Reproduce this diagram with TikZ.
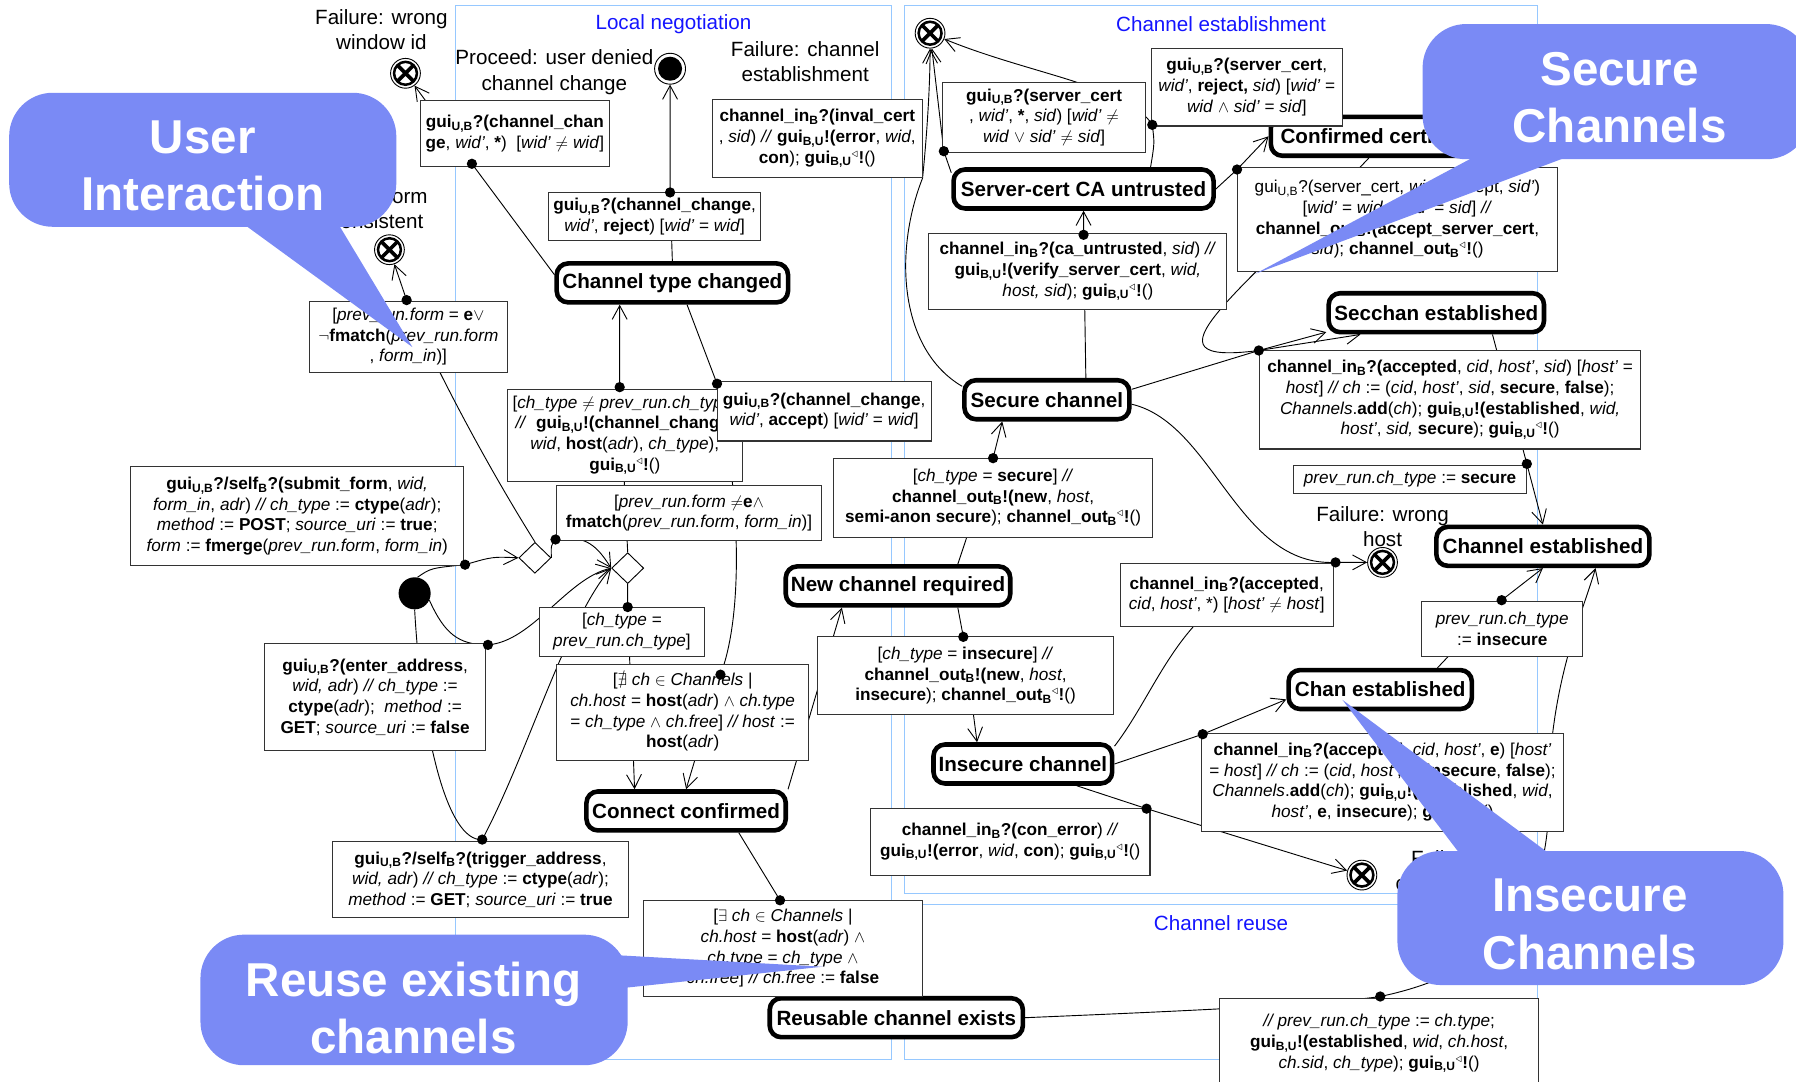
\documentclass[tikz,border=0pt]{standalone}
\usepackage{amsmath,amssymb}
\usepackage{fontspec}
\setmainfont{Liberation Sans}
\usetikzlibrary{arrows.meta,shapes.geometric,calc}
\definecolor{frameblue}{RGB}{150,200,255}
\definecolor{titleblue}{RGB}{20,20,255}
\definecolor{bubbleblue}{RGB}{122,138,245}
\pgfdeclarelayer{frames}
\pgfdeclarelayer{wires}
\pgfdeclarelayer{top}
\pgfsetlayers{frames,wires,main,top}
\newcommand{\lsub}[1]{\textsubscript{\textbf{#1}}}
\newcommand{\tri}{\textsuperscript{$\triangleleft$}}
\newcommand{\gui}[1]{\textbf{gui}\lsub{#1}}
\newcommand{\chin}{\textbf{channel\_in}\lsub{B}}
\newcommand{\chout}{\textbf{channel\_out}\lsub{B}}
\tikzset{
  statebox/.style={rectangle, rounded corners=10pt, draw, line width=4pt, fill=white,
                   inner sep=2pt, minimum height=34pt, font=\fontsize{18}{21}\selectfont\bfseries},
  transbox/.style={rectangle, draw=black!80, line width=0.9pt, fill=white, align=center,
                   inner sep=2pt, font=\fontsize{15}{18}\selectfont},
  failnode/.style={circle, draw, line width=0.8pt, minimum size=26pt, inner sep=0pt, fill=white,
                   path picture={
                     \draw[black, line width=2.2pt] (path picture bounding box.center) circle (10pt);
                     \draw[black, line width=3.2pt] (path picture bounding box.center)
                       +(-6.5pt,-6.5pt) -- +(6.5pt,6.5pt) +(-6.5pt,6.5pt) -- +(6.5pt,-6.5pt);}},
  finalnode/.style={circle, draw, line width=0.8pt, minimum size=27pt, inner sep=0pt, fill=white,
                    path picture={\fill[black] (path picture bounding box.center) circle (10.5pt);}},
  initnode/.style={circle, fill, minimum size=28pt, inner sep=0pt},
  choicenode/.style={diamond, draw, fill=white, line width=0.8pt, minimum width=28pt,
                     minimum height=27pt, inner sep=0pt},
  note/.style={align=center, font=\fontsize{18}{22}\selectfont},
  sectitle/.style={font=\fontsize{18}{22}\selectfont, text=titleblue},
  secframe/.style={draw=frameblue, line width=0.8pt},
  wire/.style={line width=0.8pt},
  arrow/.style={wire, -{Straight Barb[length=12pt,width=13pt]}},
  bubble/.style={fill=bubbleblue, draw=none},
  bubbletext/.style={text=white, align=center, font=\fontsize{41.5}{50}\selectfont\bfseries},
}

\begin{document}
\begin{tikzpicture}[x=1pt,y=-1pt]
\useasboundingbox (0,0) rectangle (1568,944);

\begin{pgfonlayer}{frames}
\draw[secframe] (398,5) rectangle (778,925);
\draw[secframe] (790,5) rectangle (1342,780);
\draw[secframe] (790,790) rectangle (1342,925);
\end{pgfonlayer}
\node[sectitle] (tloc) at (588,21) {Local negotiation};
\node[sectitle] (test) at (1066,21) {Channel establishment};
\node[sectitle] (treu) at (1066,806) {Channel reuse};

% states
\node[statebox, minimum width=202pt] (ctc) at (587,247) {Channel type changed};
\node[statebox, minimum width=144pt] (sc) at (914,349) {Secure channel};
\node[statebox, minimum width=227pt] (scu) at (946,165) {Server-cert CA untrusted};
\node[statebox, minimum width=197pt] (cert) at (1208,119) {Confirmed certificate};
\node[statebox, minimum width=188pt] (secchan) at (1254,273) {Secchan established};
\node[statebox, minimum width=196pt] (ncr) at (784,511.5) {New channel required};
\node[statebox, minimum width=186pt] (ce) at (1347,477) {Channel established};
\node[statebox, minimum width=160pt] (chanest) at (1205,602) {Chan established};
\node[statebox, minimum width=156pt] (ic) at (893,667) {Insecure channel};
\node[statebox, minimum width=174pt] (cc) at (599,708) {Connect confirmed};
\node[statebox, minimum width=221pt] (rce) at (782.5,888.5) {Reusable channel exists};

\node[initnode] (init) at (362,518) {};
\node[finalnode] (fin) at (585,60) {};
\node[failnode] (x1) at (354,64) {};
\node[failnode] (x2) at (340,218) {};
\node[failnode] (x3) at (812,29) {};
\node[failnode] (x4) at (1207,491) {};
\node[failnode] (x5) at (1189,764) {};
\node[choicenode] (dia1) at (467,487) {};
\node[choicenode] (dia2) at (548,496) {};

\node[note] (lx1) at (333,26) {Failure: wrong\\window id};
\node[note] (lfin) at (484,63) {Proceed: user denied\\channel change};
\node[note] (lx3) at (703,54) {Failure: channel\\establishment};
\node[note] (lx2) at (322,182) {Failure: form\\inconsistent};
\node[note] (lx4) at (1207,460) {Failure: wrong\\host};
\node[note] (lx5) at (1262,760) {Failure:\\connection};

% transition labels
\node[transbox, minimum width=165pt, minimum height=57pt] (b1) at (449.5,116.5)
  {\gui{U,B}\textbf{?(channel\_chan}\\\textbf{ge}, \textit{wid'}, \textbf{*})~~[\textit{wid'} $\neq$ \textit{wid}]};
\node[transbox, minimum width=185pt, minimum height=42pt] (b2) at (571.5,189)
  {\gui{U,B}\textbf{?(channel\_change},\\\textit{wid'}, \textbf{reject}) [\textit{wid'} = \textit{wid}]};
\node[transbox, minimum width=183pt, minimum height=68pt] (b3) at (713.5,121)
  {\chin\textbf{?(inval\_cert}\\, \textit{sid}) \textit{//} \gui{B,U}\textbf{!(error}, \textit{wid},\\\textbf{con}); \gui{B,U}\tri\textbf{!}()};
\node[transbox, minimum width=173pt, minimum height=62pt] (b4) at (356.5,294)
  {[\textit{prev\_run.form} = \textbf{e}$\vee$\\$\neg$\textbf{fmatch}(\textit{prev\_run.form}\\, \textit{form\_in})]};
\node[transbox, minimum width=205pt, minimum height=80pt] (b5) at (545.5,380)
  {[\textit{ch\_type} $\neq$ \textit{prev\_run.ch\_type}]\\\textit{//}~~\gui{B,U}\textbf{!(channel\_change},\\\textit{wid}, \textbf{host}(\textit{adr}), \textit{ch\_type}),\\\gui{B,U}\tri\textbf{!}()};
\node[transbox, minimum width=187pt, minimum height=52pt] (b6) at (719.5,359)
  {\gui{U,B}\textbf{?(channel\_change},\\\textit{wid'}, \textbf{accept}) [\textit{wid'} = \textit{wid}]};
\node[transbox, minimum width=291pt, minimum height=87pt] (b7) at (259.5,450.5)
  {\gui{U,B}\textbf{?/self}\lsub{B}\textbf{?(submit\_form}, \textit{wid,}\\\textit{form\_in}, \textit{adr}) \textit{// ch\_type} := \textbf{ctype}(\textit{adr});\\\textit{method} := \textbf{POST}; \textit{source\_uri} := \textbf{true};\\\textit{form} := \textbf{fmerge}(\textit{prev\_run.form}, \textit{form\_in})};
\node[transbox, minimum width=231pt, minimum height=48pt] (b8) at (601.5,448)
  {[\textit{prev\_run.form} $\neq$\textbf{e}$\wedge$\\\textbf{fmatch}(\textit{prev\_run.form}, \textit{form\_in})]};
\node[transbox, minimum width=144pt, minimum height=43pt] (b9) at (543,551.5)
  {[\textit{ch\_type} =\\\textit{prev\_run.ch\_type}]};
\node[transbox, minimum width=193pt, minimum height=93pt] (b10) at (327.5,608.5)
  {\gui{U,B}\textbf{?(enter\_address},\\\textit{wid, adr}) \textit{// ch\_type} :=\\\textbf{ctype}(\textit{adr});~~\textit{method} :=\\\textbf{GET}; \textit{source\_uri} := \textbf{false}};
\node[transbox, minimum width=220pt, minimum height=84pt] (b11) at (596,622)
  {[$\nexists$ \textit{ch} $\in$ \textit{Channels} |\\\textit{ch.host} = \textbf{host}(\textit{adr}) $\wedge$ \textit{ch.type}\\= \textit{ch\_type} $\wedge$ \textit{ch.free}] \textit{// host} :=\\\textbf{host}(\textit{adr})};
\node[transbox, minimum width=259pt, minimum height=66pt] (b12) at (419.5,768)
  {\gui{U,B}\textbf{?/self}\lsub{B}\textbf{?(trigger\_address},\\\textit{wid, adr}) \textit{// ch\_type} := \textbf{ctype}(\textit{adr});\\\textit{method} := \textbf{GET}; \textit{source\_uri} := \textbf{true}};
\node[transbox, minimum width=243pt, minimum height=84pt] (b13) at (683.5,828)
  {[$\exists$ \textit{ch} $\in$ \textit{Channels} |\\\textit{ch.host} = \textbf{host}(\textit{adr}) $\wedge$\\\textit{ch.type} = \textit{ch\_type} $\wedge$\\\textit{ch.free}] \textit{// ch.free} := \textbf{false}};
\node[transbox, minimum width=278pt, minimum height=69pt] (b14) at (867,434.5)
  {[\textit{ch\_type} = \textbf{secure}] \textit{//}\\\chout\textbf{!(new}, \textit{host},\\\textbf{semi-anon secure}); \chout\tri\textbf{!}()};
\node[transbox, minimum width=258pt, minimum height=68pt] (b15) at (843,590)
  {[\textit{ch\_type} = \textbf{insecure}] \textit{//}\\\chout\textbf{!(new}, \textit{host},\\\textbf{insecure}); \chout\tri\textbf{!}()};
\node[transbox, minimum width=244pt, minimum height=58pt] (b16) at (882,735)
  {\chin\textbf{?(con\_error}) \textit{//}\\\gui{B,U}\textbf{!(error}, \textit{wid}, \textbf{con}); \gui{B,U}\tri\textbf{!}()};
\node[transbox, minimum width=177pt, minimum height=61pt] (b17) at (911.5,102.5)
  {\gui{U,B}\textbf{?(server\_cert}\\, \textit{wid'}, \textbf{*}, \textit{sid}) [\textit{wid'} $\neq$\\\textit{wid} $\vee$ \textit{sid'} $\neq$ \textit{sid}]};
\node[transbox, minimum width=167pt, minimum height=68pt] (b18) at (1088.5,76)
  {\gui{U,B}\textbf{?(server\_cert},\\\textit{wid'}, \textbf{reject,} \textit{sid}) [\textit{wid'} =\\\textit{wid} $\wedge$ \textit{sid'} = \textit{sid}]};
\node[transbox, minimum width=280pt, minimum height=91pt] (b19) at (1220,191.5)
  {gui\textsubscript{U,B}?(server\_cert, \textit{wid'}, accept, \textit{sid'})\\{}[\textit{wid'} = \textit{wid} $\wedge$ \textit{sid'} = \textit{sid}] \textit{//}\\\chout\textbf{!(accept\_server\_cert},\\\textit{sid}); \chout\tri\textbf{!}()};
\node[transbox, minimum width=260pt, minimum height=66pt] (b20) at (941,237)
  {\chin\textbf{?(ca\_untrusted}, \textit{sid}) \textit{//}\\\gui{B,U}\textbf{!(verify\_server\_cert}, \textit{wid,}\\\textit{host, sid}); \gui{B,U}\tri\textbf{!}()};
\node[transbox, minimum width=332pt, minimum height=86pt] (b21) at (1266,349)
  {\chin\textbf{?(accepted}, \textit{cid}, \textit{host'}, \textit{sid}) [\textit{host'} =\\\textit{host}] \textit{// ch} := (\textit{cid}, \textit{host'}, \textit{sid}, \textbf{secure}, \textbf{false});\\\textit{Channels}.\textbf{add}(\textit{ch}); \gui{B,U}\textbf{!(established}, \textit{wid,}\\\textit{host'}, \textit{sid,} \textbf{secure}); \gui{B,U}\tri\textbf{!}()};
\node[transbox, minimum width=204pt, minimum height=25pt] (b22) at (1231,418.5)
  {\textit{prev\_run.ch\_type} := \textbf{secure}};
\node[transbox, minimum width=186pt, minimum height=55pt] (b23) at (1071,519.5)
  {\chin\textbf{?(accepted},\\\textit{cid}, \textit{host'}, *) [\textit{host'} $\neq$ \textit{host}]};
\node[transbox, minimum width=141pt, minimum height=48pt] (b24) at (1311.5,549)
  {\textit{prev\_run.ch\_type}\\:= \textbf{insecure}};
\node[transbox, minimum width=316pt, minimum height=86pt] (b25) at (1207,683)
  {\chin\textbf{?(accepted}, \textit{cid}, \textit{host'}, \textbf{e}) [\textit{host'}\\= \textit{host}] \textit{// ch} := (\textit{cid}, \textit{host'}, \textbf{e}, \textbf{insecure}, \textbf{false});\\\textit{Channels}.\textbf{add}(\textit{ch}); \gui{B,U}\textbf{!(established}, \textit{wid},\\\textit{host'}, \textbf{e}, \textbf{insecure}); \gui{B,U}\tri\textbf{!}()};
\node[transbox, minimum width=278pt, minimum height=78pt] (b26) at (1204,911)
  {\textit{// prev\_run.ch\_type} := \textit{ch.type};\\\gui{B,U}\textbf{!(established}, \textit{wid}, \textit{ch.host},\\\textit{ch.sid}, \textit{ch\_type}); \gui{B,U}\tri\textbf{!}()};

% label anchors on the transitions
\coordinate (d1) at (412,143);   \coordinate (d2) at (585,168);
\coordinate (d4) at (355,262);   \coordinate (d5) at (541,338);
\coordinate (d6) at (626,335);   \coordinate (d7) at (406,493);
\coordinate (d8) at (485,471);   \coordinate (d9) at (548,530);
\coordinate (d10) at (426,563);  \coordinate (d11) at (629,589);
\coordinate (d12) at (421,733);  \coordinate (d13) at (681,786);
\coordinate (d14) at (867,400);  \coordinate (d15) at (841,556);
\coordinate (d16) at (1001,706); \coordinate (d17) at (824,132);
\coordinate (d18) at (1006,109); \coordinate (d19) at (1080,148);
\coordinate (d20) at (946,205);  \coordinate (d21) at (1099,306);
\coordinate (d22) at (1333,405); \coordinate (d23) at (1166,491);
\coordinate (d24) at (1311,524); \coordinate (d25) at (1050,641);
\coordinate (d26) at (1205,870);

\begin{pgfonlayer}{wires}
\draw[arrow] (ctc.176) -- (d1) -- (x1);
\draw[arrow] (ctc.north) -- (d2) -- (fin);
\draw[arrow] (dia1.north) .. controls (415,390) and (370,300) .. (d4) -- (x2);
\draw[arrow] (dia2.north) -- (d5) -- (d5 |- ctc.south);
\draw[arrow] (ctc.-56) -- (d6) .. controls (648,440) and (648,540) .. (d11) -- (cc.north);
\draw[arrow] (dia2.south) -- (d9) -- ($(cc.north)+(-45,0)$);
\draw[arrow] (init.80) .. controls (376,496) .. (d7) .. controls (430,486) .. (dia1.west);
\draw[arrow] (init.-25) .. controls (388,553) and (400,563) .. (d10) .. controls (465,560) and (495,505) .. (dia2.west);
\draw[arrow] (init.south) .. controls (368,640) and (390,735) .. (d12) .. controls (460,660) and (495,540) .. (dia2.west);
\draw[arrow] (dia1.east) .. controls (481,476) .. (d8) .. controls (512,466) and (522,478) .. (dia2.west);
\draw[arrow] (ncr.20) -- (d14) -- ($(sc.south)+(-39,0)$);
\draw[arrow] (ncr.-20) -- (d15) -- ($(ic.north)+(-40,0)$);
\draw[arrow] ($(sc.north)+(34,0)$) -- (d20) -- (d20 |- scu.south);
\draw[arrow] (scu.173) -- (d17) -- (x3);
\draw[arrow] (scu.18) .. controls (1008,125) .. (d18) .. controls (985,75) and (900,65) .. (x3);
\draw[arrow] (scu.east) -- (d19) -- (cert.west);
\draw[arrow] ($(cert.south)+(-13,0)$) .. controls (1080,260) and (990,320) .. (d21) -- (secchan.196);
\draw[arrow] (sc.7) -- (d21) -- (secchan.190);
\draw[arrow] ($(secchan.south)+(49,0)$) -- (d22) -- (ce.north);
\draw[arrow] (sc.-3) .. controls (1060,370) and (1080,495) .. (d23) -- (x4);
\draw[wire] (ic.11) .. controls (1020,590) and (1035,500) .. (d23);
\draw[arrow] (ic.east) -- (d25) -- (chanest.186);
\draw[arrow] ($(chanest.north)+(50,0)$) -- (d24) -- (ce.south);
\draw[arrow] (rce.east) .. controls (1000,884) and (1150,878) .. (d26) .. controls (1300,850) and (1352,800) .. (1352,700) .. controls (1352,600) and (1380,540) .. ($(ce.south)+(46,0)$);
\draw[arrow] (ic.-22) -- (d16) -- (x5);
\draw[arrow] ($(cc.south)+(46,0)$) -- (d13) -- ($(rce.north)+(-50,0)$);
\draw[arrow] (cc.north east) -- ($(ncr.south)+(-49,0)$);
\draw[arrow] (sc.171) .. controls (785,305) and (780,220) .. (b3.south east) .. controls (810,110) and (812,70) .. (x3);
\end{pgfonlayer}

\begin{pgfonlayer}{top}
\foreach \d in {d1,d2,d4,d5,d6,d7,d8,d9,d10,d11,d12,d13,d14,d15,d16,d17,d18,d19,d20,d21,d22,d23,d24,d25,d26}
  \fill (\d) circle (4.5pt);

% callouts
\fill[bubble, rounded corners=38pt] (8,81) rectangle (346,198);
\fill[bubble] (205,190) -- (360,303) -- (292,190) -- cycle;
\node[bubbletext] (user) at (177,145) {User\\Interaction};
\fill[bubble, rounded corners=38pt] (1242,21) rectangle (1580,139);
\fill[bubble] (1300,130) -- (1096,239) -- (1387,130) -- cycle;
\node[bubbletext] (secure) at (1414,85) {Secure\\Channels};
\fill[bubble, rounded corners=38pt] (1220,743) rectangle (1557,860);
\fill[bubble] (1278,750) -- (1172,611) -- (1359,750) -- cycle;
\node[bubbletext] (insecure) at (1388,807) {Insecure\\Channels};
\fill[bubble, rounded corners=38pt] (175,816) rectangle (548,930);
\fill[bubble] (540,834) -- (718,844) -- (540,863) -- cycle;
\node[bubbletext] (reuse) at (361,880) {Reuse existing\\channels};
\end{pgfonlayer}
\end{tikzpicture}
\end{document}
